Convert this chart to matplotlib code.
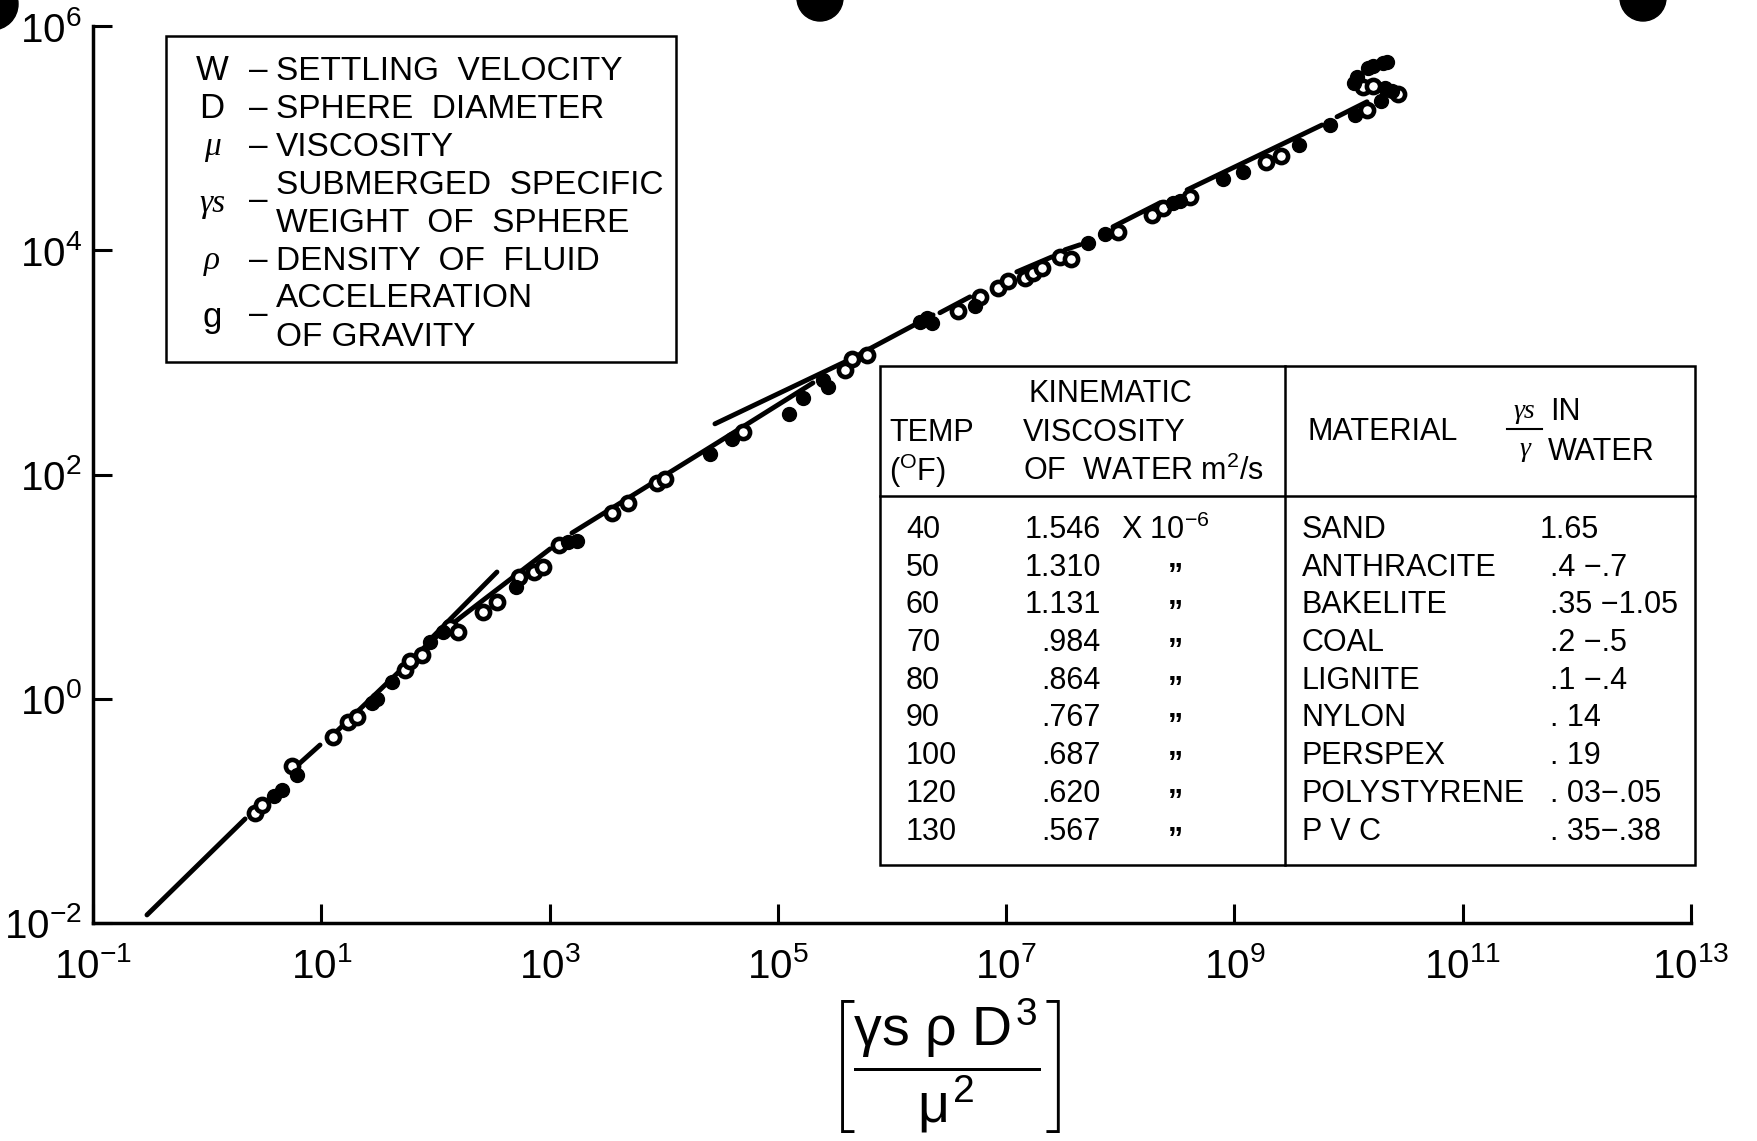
import numpy as np
import matplotlib
matplotlib.use("Agg")
import matplotlib.pyplot as plt
from matplotlib.patches import Rectangle, Ellipse
from matplotlib.lines import Line2D

plt.rcParams["font.family"] = ["Liberation Sans", "DejaVu Sans"]
plt.rcParams["mathtext.fontset"] = "custom"
plt.rcParams["mathtext.rm"] = "Liberation Sans"
plt.rcParams["mathtext.it"] = "Liberation Sans"
plt.rcParams["mathtext.bf"] = "Liberation Sans:bold"

nan = np.nan

# fitted curve (nan = gap in the drawn line)
curve_x = [0.297, 2.15, nan, 6.5, 9.75, nan, 13.2, 89.6, 164, 1010, nan,
           1570, 29300, 203000, nan, 5.25e5, 2.29e6, nan, 2.63e6, 4.82e6, nan,
           1.24e7, 2.52e7, nan, 3.28e7, 4.44e7, nan, 8.63e7, 2.23e8, nan,
           3.85e8, 5.85e9, nan, 7.92e9, 1.45e10]
curve_y = [0.0118, 0.0848, nan, 0.267, 0.387, nan, 0.495, 3.21, 5.26, 21.7, nan,
           30.1, 191, 656, nan, 1190, 2650, nan, 2770, 3840, nan,
           6420, 8730, nan, 10100, 11200, nan, 16200, 26500, nan,
           34600, 131000, nan, 155000, 211000]

# the two short branch lines above the main curve
branch_x = [84, 346, nan, 28100, 387000]
branch_y = [3.15, 13.5, nan, 283, 1010]

# measured points, open circles
open_x = [2.6, 3.0, 5.5, 12.7, 17.1, 20.6, 54.1, 59.8, 76.3, 134, 158, 261, 346,
          540, 731, 875, 1210, 3520, 4860, 8730, 10300, 49500, 387000, 447000,
          604000, 3.78e6, 5.90e6, 8.49e6, 1.04e7, 1.46e7, 1.72e7, 2.06e7, 2.96e7,
          3.70e7, 9.55e7, 1.90e8, 2.37e8, 4.08e8, 1.89e9, 2.56e9, 1.45e10,
          1.34e10, 1.64e10, 2.71e10]
open_y = [0.096, 0.113, 0.252, 0.456, 0.621, 0.689, 1.81, 2.17, 2.46, 4.37, 3.94,
          5.95, 7.31, 12.2, 13.5, 15.0, 23.6, 45.5, 55.8, 84.1, 91.4, 240, 857,
          1070, 1170, 2880, 3840, 4620, 5330, 5680, 6290, 6970, 8730, 8390, 14600,
          20700, 23900, 30000, 61500, 69500, 179000, 287000, 293000, 249000]

# measured points, solid dots
filled_x = [3.85, 4.5, 6.1, 27.8, 30.8, 41.7, 89.6, 116, 508, 1450, 1740, 25500,
            39600, 125000, 166000, 249000, 275000, 1.76e6, 2.03e6, 2.24e6, 5.33e6,
            5.21e7, 7.35e7, 2.90e8, 3.33e8, 7.94e8, 1.19e9, 3.68e9, 6.87e9,
            1.14e10, 1.92e10, 1.19e10, 1.12e10, 2.08e10, 2.40e10, 1.48e10,
            1.64e10, 2.00e10, 2.17e10]
filled_y = [0.136, 0.153, 0.209, 0.918, 0.995, 1.41, 3.21, 3.94, 9.94, 25.1, 25.6,
            153, 208, 347, 483, 698, 605, 2300, 2490, 2250, 3190, 11600, 14000,
            26500, 27600, 43400, 50100, 87300, 131000, 161000, 215000, 352000,
            312000, 281000, 264000, 424000, 442000, 470000, 480000]

xtick_exp = [-1, 1, 3, 5, 7, 9, 11, 13]
ytick_exp = [-2, 0, 2, 4, 6]

legend_sym = ["W", "D", "μ", "γs", "ρ", "g"]
legend_desc = [["SETTLING  VELOCITY"], ["SPHERE  DIAMETER"], ["VISCOSITY"],
               ["SUBMERGED  SPECIFIC", "WEIGHT  OF  SPHERE"], ["DENSITY  OF  FLUID"],
               ["ACCELERATION", "OF GRAVITY"]]

temps = [40, 50, 60, 70, 80, 90, 100, 120, 130]
viscosity = [1.546, 1.310, 1.131, 0.984, 0.864, 0.767, 0.687, 0.620, 0.567]
materials = ["SAND", "ANTHRACITE", "BAKELITE", "COAL", "LIGNITE", "NYLON",
             "PERSPEX", "POLYSTYRENE", "P V C"]
gamma_ratio = ["1.65", ".4 \u2212.7", ".35 \u22121.05", ".2 \u2212.5", ".1 \u2212.4",
               ". 14", ". 19", ". 03\u2212.05", ". 35\u2212.38"]

W, H = 1758, 1141


def fx(x):
    return x / W


def fy(y):
    return 1 - y / H


fig = plt.figure(figsize=(W / 100, H / 100), dpi=100)
ax = fig.add_axes([fx(93), fy(923), (1691 - 93) / W, (923 - 26) / H])
ax.set_xscale("log")
ax.set_yscale("log")

ax.plot(curve_x, curve_y, color="black", lw=3.5, solid_capstyle="round", zorder=2)
ax.plot(branch_x, branch_y, color="black", lw=3.5, solid_capstyle="round", zorder=2)
ax.plot(open_x, open_y, "o", ms=9.5, mfc="white", mec="black", mew=3.3, zorder=3)
ax.plot(filled_x, filled_y, "o", ms=10, mfc="black", mec="black", zorder=3)

ax.set_xlim(1e-1, 1e13)
ax.set_ylim(1e-2, 1e6)
ax.set_xticks([10.0 ** k for k in xtick_exp])
ax.set_yticks([10.0 ** k for k in ytick_exp])
ax.set_xticklabels([r"$\mathdefault{10^{%d}}$" % k for k in xtick_exp])
ax.set_yticklabels([r"$\mathdefault{10^{%d}}$" % k for k in ytick_exp])
ax.xaxis.set_minor_locator(matplotlib.ticker.NullLocator())
ax.yaxis.set_minor_locator(matplotlib.ticker.NullLocator())
ax.tick_params(direction="in", length=14, width=2.2, labelsize=29)
ax.tick_params(axis="x", pad=17)
ax.tick_params(axis="y", pad=8)
for s in ["top", "right"]:
    ax.spines[s].set_visible(False)
for s in ["left", "bottom"]:
    ax.spines[s].set_linewidth(2.5)

# x axis label
fig.text(fx(945), fy(1066),
         r"$\left[\dfrac{\gamma s\ \rho\ D^{3}}{\mu^{2}}\right]$",
         ha="center", va="center", fontsize=40)

# symbol legend box
fig.add_artist(Rectangle((fx(166), fy(362)), (676 - 166) / W, (362 - 36) / H,
                         transform=fig.transFigure, fill=False, lw=1.8, color="black"))
line_y = 71
for sym, desc in zip(legend_sym, legend_desc):
    ys = [line_y + 38 * i for i in range(len(desc))]
    yc = np.mean(ys)
    if sym in ("μ", "γs", "ρ"):
        fig.text(fx(212), fy(yc), sym, ha="center", va="center", fontsize=24,
                 family="Liberation Serif", style="italic")
    else:
        fig.text(fx(212), fy(yc), sym, ha="center", va="center", fontsize=25)
    fig.text(fx(258), fy(yc - (4 if len(desc) > 1 else 0)), "\u2013",
             ha="center", va="center", fontsize=24)
    for t, yy in zip(desc, ys):
        fig.text(fx(276), fy(yy), t, ha="left", va="center", fontsize=24)
    line_y += 38 * len(desc)

# viscosity / material table
fig.add_artist(Rectangle((fx(880), fy(865)), (1695 - 880) / W, (865 - 366) / H,
                         transform=fig.transFigure, fill=False, lw=1.8, color="black"))
fig.add_artist(Line2D([fx(1285), fx(1285)], [fy(366), fy(865)],
                      transform=fig.transFigure, lw=1.8, color="black"))
fig.add_artist(Line2D([fx(880), fx(1695)], [fy(496), fy(496)],
                      transform=fig.transFigure, lw=1.8, color="black"))
fig.add_artist(Line2D([fx(1507), fx(1542)], [fy(429), fy(429)],
                      transform=fig.transFigure, lw=1.5, color="black"))

ts = 22
fig.text(fx(1110), fy(394), "KINEMATIC", ha="center", va="center", fontsize=ts)
fig.text(fx(889), fy(433), "TEMP", ha="left", va="center", fontsize=ts)
fig.text(fx(889), fy(471), r"$(^{\mathrm{O}}\mathrm{F})$", ha="left", va="center", fontsize=ts)
fig.text(fx(1023), fy(433), "VISCOSITY", ha="left", va="center", fontsize=ts)
fig.text(fx(1023), fy(471), r"OF  WATER m$^2$/s", ha="left", va="center", fontsize=ts)
fig.text(fx(1308), fy(432), "MATERIAL", ha="left", va="center", fontsize=ts)
fig.text(fx(1524), fy(412), "γs", ha="center", va="center", fontsize=20,
         family="Liberation Serif", style="italic")
fig.text(fx(1525), fy(449), "γ", ha="center", va="center", fontsize=20,
         family="Liberation Serif", style="italic")
fig.text(fx(1550), fy(412), "IN", ha="left", va="center", fontsize=ts)
fig.text(fx(1548), fy(452), "WATER", ha="left", va="center", fontsize=ts)

for i, (t, v, m, g) in enumerate(zip(temps, viscosity, materials, gamma_ratio)):
    yy = 530 + 37.7 * i
    fig.text(fx(906), fy(yy), str(t), ha="left", va="center", fontsize=ts)
    vs = f"{v:.3f}" if v >= 1 else f"{v:.3f}".lstrip("0")
    fig.text(fx(1101), fy(yy), vs, ha="right", va="center", fontsize=ts)
    if i == 0:
        fig.text(fx(1121), fy(yy), r"X 10$^{-6}$", ha="left", va="center", fontsize=ts)
    else:
        fig.text(fx(1175), fy(yy + 9), "\u201D", ha="center", va="center",
                 fontsize=22, fontweight="bold")
    fig.text(fx(1302), fy(yy), m, ha="left", va="center", fontsize=ts)
    fig.text(fx(1540 if i == 0 else 1550), fy(yy), g, ha="left", va="center", fontsize=ts)

# punched holes of the scanned page
for cx, cy, r in [(-8, 4, 26), (820, -2, 23), (1643, -2, 23)]:
    fig.add_artist(Ellipse((fx(cx), fy(cy)), 2 * r / W, 2 * r / H,
                           transform=fig.transFigure, color="black"))

fig.savefig("out.png", dpi=100, facecolor="white")
